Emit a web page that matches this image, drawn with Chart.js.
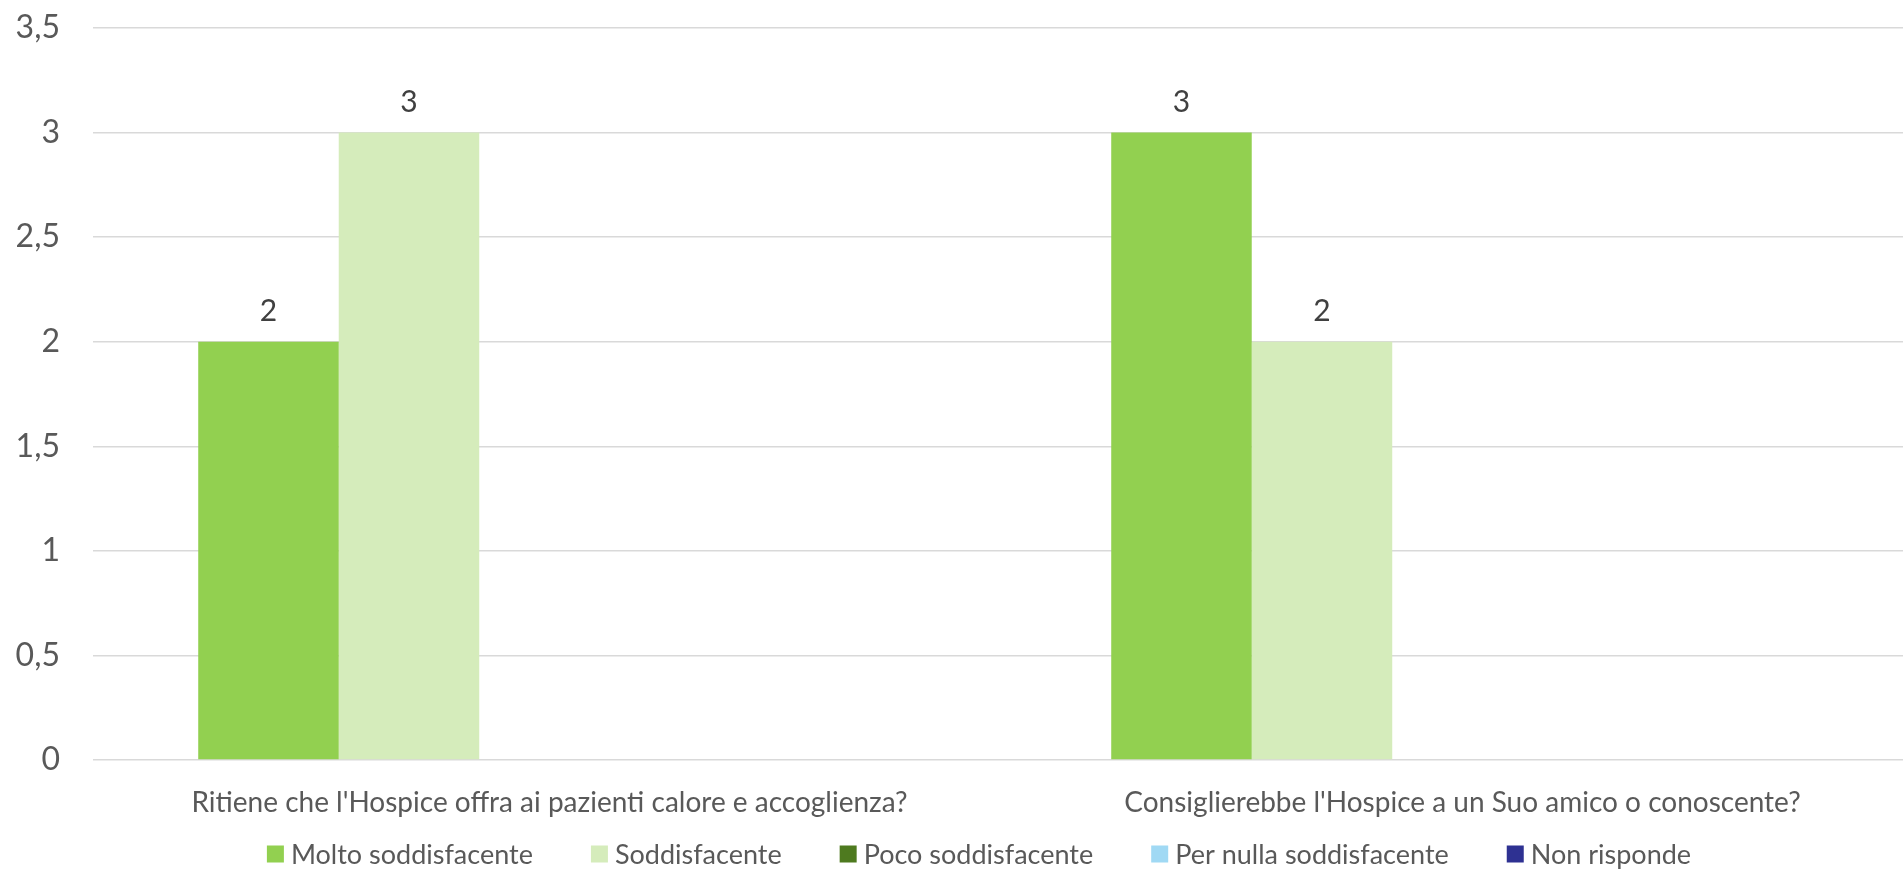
<!DOCTYPE html>
<html>
<head>
<meta charset="utf-8">
<script src="https://cdn.jsdelivr.net/npm/chart.js@4.4.1/dist/chart.umd.min.js"></script>
<style>
  html, body { margin: 0; padding: 0; background: #fff; overflow: hidden; }
  #wrap { width: 1925px; height: 869px; position: relative; }
</style>
</head>
<body>
<div id="wrap"><canvas id="chart"></canvas></div>
<script>
const categories = [
  "Ritiene che l'Hospice offra ai pazienti calore e accoglienza?",
  "Consiglierebbe l'Hospice a un Suo amico o conoscente?"
];
const seriesNames = ['Molto soddisfacente', 'Soddisfacente', 'Poco soddisfacente', 'Per nulla soddisfacente', 'Non risponde'];
const molto = [2, 3];
const soddisfacente = [3, 2];
const poco = [0, 0];
const perNulla = [0, 0];
const nonRisponde = [0, 0];
const colors = ['#92d050', '#d5ecbb', '#4e7a1f', '#a0d9f4', '#2e3192'];

const FONT = 'Lato, "Open Sans", sans-serif';

// draws value labels above each non-zero bar
const valueLabels = {
  id: 'valueLabels',
  afterDatasetsDraw(chart) {
    const ctx = chart.ctx;
    ctx.save();
    ctx.font = '30px ' + FONT;
    ctx.fillStyle = '#404040';
    ctx.textAlign = 'center';
    ctx.textBaseline = 'middle';
    chart.data.datasets.forEach((ds, i) => {
      const meta = chart.getDatasetMeta(i);
      if (meta.hidden) return;
      meta.data.forEach((bar, j) => {
        const v = ds.data[j];
        if (!v) return;
        ctx.fillText(String(v), bar.x, bar.y - 30);
      });
    });
    ctx.restore();
  }
};

// legend row at the bottom, drawn by hand so spacing matches excel
const bottomLegend = {
  id: 'bottomLegend',
  afterDraw(chart) {
    const ctx = chart.ctx;
    const box = 17, gapText = 7, gapItem = 58;
    const centerX = 979, centerY = 854;
    ctx.save();
    ctx.font = '27px ' + FONT;
    ctx.textBaseline = 'middle';
    ctx.textAlign = 'left';
    const ds = chart.data.datasets;
    const widths = ds.map(d => box + gapText + ctx.measureText(d.label).width);
    const total = widths.reduce((a, b) => a + b, 0) + gapItem * (ds.length - 1);
    let x = centerX - total / 2;
    ds.forEach((d, i) => {
      ctx.fillStyle = d.backgroundColor;
      ctx.fillRect(x, centerY - box / 2, box, box);
      ctx.fillStyle = '#595959';
      ctx.fillText(d.label, x + box + gapText, centerY + 1);
      x += widths[i] + gapItem;
    });
    ctx.restore();
  }
};

const allSeries = [molto, soddisfacente, poco, perNulla, nonRisponde];

new Chart(document.getElementById('chart'), {
  type: 'bar',
  data: {
    labels: categories,
    datasets: allSeries.map((d, i) => ({
      label: seriesNames[i],
      data: d,
      backgroundColor: colors[i],
      borderWidth: 0,
      barPercentage: 1,
      categoryPercentage: 0.7695
    }))
  },
  options: {
    responsive: true,
    maintainAspectRatio: false,
    animation: false,
    layout: { padding: { top: 28, right: 6, left: 0, bottom: 49 } },
    plugins: {
      legend: { display: false },
      tooltip: { enabled: false }
    },
    scales: {
      x: {
        grid: { display: false },
        border: { display: false },
        ticks: {
          color: '#595959',
          padding: 18,
          maxRotation: 0,
          font: { family: FONT, size: 28 }
        },
        afterFit(scale) { scale.height = 60; }
      },
      y: {
        min: 0,
        max: 3.5,
        ticks: {
          stepSize: 0.5,
          color: '#595959',
          padding: 33,
          font: { family: FONT, size: 32 },
          callback: v => String(v).replace('.', ',')
        },
        grid: { color: '#d9d9d9', lineWidth: 1.5, drawTicks: false },
        border: { display: false },
        afterFit(scale) {
          scale.width = 93;
          scale.paddingTop = 0;
        }
      }
    }
  },
  plugins: [valueLabels, bottomLegend]
});
</script>
</body>
</html>
